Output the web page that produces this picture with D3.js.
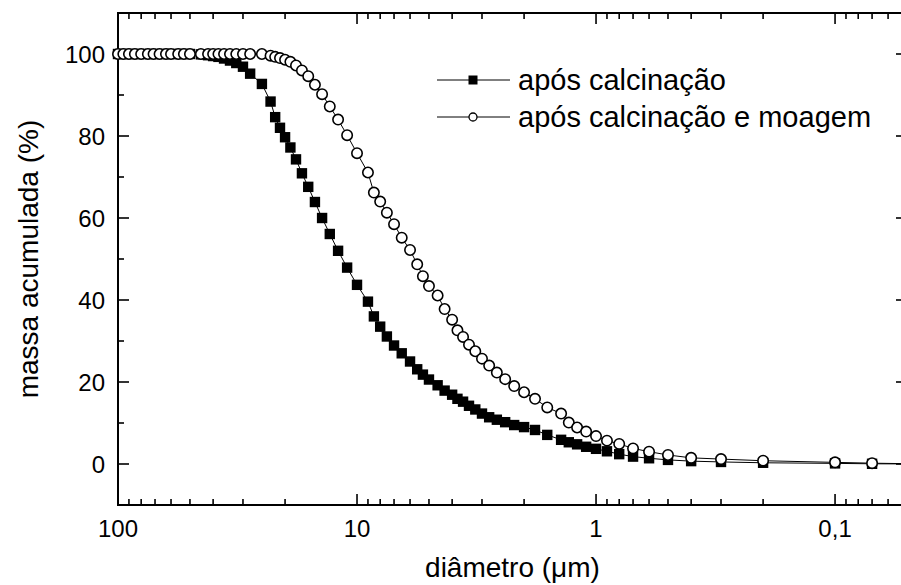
<!DOCTYPE html>
<html>
<head>
<meta charset="utf-8">
<script src="https://cdn.jsdelivr.net/npm/d3@7"></script>
<style>
  html, body { margin: 0; padding: 0; background: #fff; }
  svg { display: block; font-family: "Liberation Sans", Arial, sans-serif; }
</style>
</head>
<body>
<svg id="chart" width="901" height="585"></svg>
<script>
// ---- data (diameter in µm, cumulative mass %) ----
const diametro = [100, 95, 90, 85, 80, 75, 71, 67, 63, 60, 56, 53, 50, 45, 42, 40, 38, 36, 34, 32, 30, 28,
  25, 23, 22, 21, 20, 19, 18, 17, 16, 15, 14, 13, 12, 11, 10,
  9, 8.5, 8, 7.5, 7, 6.5, 6, 5.6, 5.3, 5,
  4.6, 4.3, 4, 3.8, 3.6, 3.4, 3.2, 3, 2.8, 2.6, 2.4, 2.2, 2,
  1.8, 1.6, 1.4, 1.3, 1.2, 1.1, 1,
  0.9, 0.8, 0.7, 0.6, 0.5, 0.4, 0.3, 0.2, 0.1, 0.07, 0.04];

const aposCalcinacao = [100, 100, 100, 100, 100, 100, 100, 100, 100, 100, 100, 100, 100,
  99.9, 99.7, 99.5, 99.3, 98.9, 98.4, 97.8, 96.9, 95.2,
  92.7, 88.4, 84.6, 82.0, 79.7, 77.2, 74.3, 70.9, 67.6, 63.9, 60.0, 56.1, 52.0, 47.9, 43.7,
  39.6, 36.0, 33.5, 31.1, 28.9, 27.0, 25.0, 23.1, 21.8, 20.6,
  19.2, 17.9, 16.9, 15.9, 15.2, 14.2, 13.3, 12.3, 11.4, 10.8, 10.2, 9.5, 9.0,
  8.3, 7.1, 5.9, 5.3, 4.8, 4.2, 3.7,
  3.1, 2.4, 1.8, 1.4, 1.0, 0.7, 0.5, 0.3, 0.15, 0.05, 0];

const aposCalcinacaoMoagem = [100, 100, 100, 100, 100, 100, 100, 100, 100, 100, 100, 100, 100,
  100, 100, 100, 100, 100, 100, 100, 100, 100,
  100, 99.6, 99.3, 99.0, 98.6, 98.1, 97.2, 96.0, 94.6, 92.5, 90.2, 87.2, 84.0, 80.2, 75.8,
  71.1, 66.2, 64.0, 61.3, 58.5, 55.2, 52.2, 48.7, 45.8, 43.4,
  41.1, 37.8, 35.2, 32.6, 31.0, 29.1, 27.5, 25.7, 24.0, 22.3, 20.7, 19.0, 17.5,
  15.9, 13.8, 12.3, 10.1, 8.9, 7.9, 6.8,
  5.7, 4.9, 3.8, 3.0, 2.2, 1.5, 1.2, 0.8, 0.4, 0.2, 0];

const seriesNames = ["após calcinação", "após calcinação e moagem"];
const xMajorTicks = [100, 10, 1, 0.1];
const xMajorLabels = ["100", "10", "1", "0,1"];
const yMajorTicks = [0, 20, 40, 60, 80, 100];
const yMinorTicks = [-10, 10, 30, 50, 70, 90, 110];
const xTitle = "diâmetro (μm)";
const yTitle = "massa acumulada (%)";

// ---- layout ----
const L = 118, R = 907, T = 13, B = 505;
const svg = d3.select("#chart");
svg.append("rect").attr("width", 901).attr("height", 585).attr("fill", "#fff");

const x = d3.scaleLog().domain([100, 0.05]).range([L, R]);
const y = d3.scaleLinear().domain([-10, 110]).range([B, T]);

// minor x ticks: 2..9 × each decade within the domain
const xMinorTicks = [];
[0.01, 0.1, 1, 10].forEach(dec => {
  for (let m = 2; m <= 9; m++) {
    const v = +(m * dec).toPrecision(3);
    if (v <= 100 && v >= 0.05) xMinorTicks.push(v);
  }
});

const tickStroke = 1.6;
const axG = svg.append("g").attr("stroke", "#000").attr("stroke-width", tickStroke);

function xTicks(yPos, dir) {
  xMajorTicks.forEach(v => axG.append("line")
    .attr("x1", x(v)).attr("x2", x(v)).attr("y1", yPos).attr("y2", yPos + dir * 11));
  xMinorTicks.forEach(v => axG.append("line")
    .attr("x1", x(v)).attr("x2", x(v)).attr("y1", yPos).attr("y2", yPos + dir * 6));
}
xTicks(B, -1);
xTicks(T, 1);
function yTicks(xPos, dir) {
  yMajorTicks.forEach(v => axG.append("line")
    .attr("x1", xPos).attr("x2", xPos + dir * 11).attr("y1", y(v)).attr("y2", y(v)));
  yMinorTicks.forEach(v => axG.append("line")
    .attr("x1", xPos).attr("x2", xPos + dir * 6).attr("y1", y(v)).attr("y2", y(v)));
}
yTicks(L, 1);
yTicks(R, -1);

// frame
svg.append("rect").attr("x", L).attr("y", T).attr("width", R - L).attr("height", B - T)
  .attr("fill", "none").attr("stroke", "#000").attr("stroke-width", 2);

// tick labels
const tickFont = 24;
svg.append("g").selectAll("text").data(xMajorTicks).join("text")
  .attr("x", d => x(d)).attr("y", B + 32)
  .attr("text-anchor", "middle").attr("font-size", tickFont)
  .text((d, i) => xMajorLabels[i]);
svg.append("g").selectAll("text").data(yMajorTicks).join("text")
  .attr("x", L - 13).attr("y", d => y(d) + 8.5)
  .attr("text-anchor", "end").attr("font-size", tickFont)
  .text(d => d);

// axis titles
svg.append("text").attr("x", (L + R) / 2).attr("y", 577)
  .attr("text-anchor", "middle").attr("font-size", 28).text(xTitle);
svg.append("text").attr("transform", `translate(38,${(T + B) / 2}) rotate(-90)`)
  .attr("text-anchor", "middle").attr("font-size", 28).text(yTitle);

// data
const ptsA = diametro.map((d, i) => [d, aposCalcinacao[i]]);
const ptsB = diametro.map((d, i) => [d, aposCalcinacaoMoagem[i]]);
const line = d3.line().x(d => x(d[0])).y(d => y(d[1]));

const dataG = svg.append("g");
dataG.append("path").datum(ptsA).attr("d", line)
  .attr("fill", "none").attr("stroke", "#000").attr("stroke-width", 1);
dataG.append("g").selectAll("rect").data(ptsA).join("rect")
  .attr("x", d => x(d[0]) - 5.2).attr("y", d => y(d[1]) - 5.2)
  .attr("width", 10.4).attr("height", 10.4).attr("fill", "#000");

dataG.append("path").datum(ptsB).attr("d", line)
  .attr("fill", "none").attr("stroke", "#000").attr("stroke-width", 1);
dataG.append("g").selectAll("circle").data(ptsB).join("circle")
  .attr("cx", d => x(d[0])).attr("cy", d => y(d[1])).attr("r", 5.2)
  .attr("fill", "#fff").attr("stroke", "#000").attr("stroke-width", 1.6);

// legend
const legG = svg.append("g");
const legRows = [80, 117];
seriesNames.forEach((name, i) => {
  const ly = legRows[i];
  legG.append("line").attr("x1", 437).attr("x2", 510).attr("y1", ly).attr("y2", ly)
    .attr("stroke", "#000").attr("stroke-width", 1);
  if (i === 0) {
    legG.append("rect").attr("x", 473 - 4.5).attr("y", ly - 4.5).attr("width", 9).attr("height", 9).attr("fill", "#000");
  } else {
    legG.append("circle").attr("cx", 473).attr("cy", ly).attr("r", 4)
      .attr("fill", "#fff").attr("stroke", "#000").attr("stroke-width", 1.3);
  }
  legG.append("text").attr("x", 518).attr("y", ly + 9.5).attr("font-size", 29).text(name);
});
</script>
</body>
</html>
